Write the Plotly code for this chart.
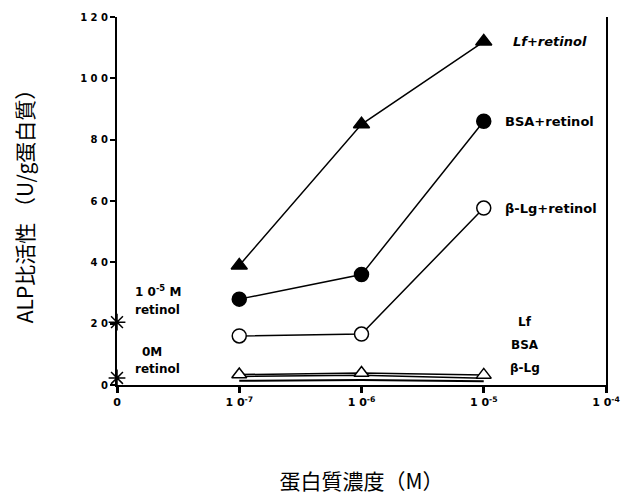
import plotly.graph_objects as go

# ---- data ----
x_pos = [1, 2, 3]                     # positions of 10^-7, 10^-6, 10^-5
tick_vals = [0, 1, 2, 3, 4]
tick_text = ["<b>0</b>", "<b>1 0<sup>-7</sup></b>", "<b>1 0<sup>-6</sup></b>",
             "<b>1 0<sup>-5</sup></b>", "<b>1 0<sup>-4</sup></b>"]
y_ticks = [0, 20, 40, 60, 80, 100, 120]
y_tick_text = ["<b>0</b>", "<b>2 0</b>", "<b>4 0</b>", "<b>6 0</b>", "<b>8 0</b>",
               "<b>1 0 0</b>", "<b>1 2 0</b>"]

lf_retinol = [39, 85, 112]
bsa_retinol = [28, 36, 86]
blg_retinol = [16, 16.6, 57.7]

lf_only = [3.4, 3.9, 3.3]
bsa_only = [2.8, 3.2, 2.2]
blg_only = [1.4, 1.6, 1.2]

retinol_x = [0, 0]
retinol_only = [20.5, 2.3]

FONT = "DejaVu Sans, Arial, sans-serif"
CJK = "Noto Sans CJK JP, Noto Sans CJK SC, sans-serif"

fig = go.Figure()

def add(y, symbol, size, fill="black", lw=1.5, mode="lines+markers"):
    fig.add_trace(go.Scatter(
        x=x_pos, y=y, mode=mode,
        line=dict(color="black", width=lw),
        marker=dict(symbol=symbol, size=size, color=fill,
                    line=dict(color="black", width=1.5)),
        cliponaxis=False, showlegend=False))

add(blg_only, "circle", 6, "black", 2, mode="lines")
add(bsa_only, "circle", 6, "black", 1.5, mode="lines")
add(lf_only, "triangle-up", 13, "white", 1.5)
add(lf_retinol, "triangle-up", 14, "black")
add(bsa_retinol, "circle", 14, "black")
add(blg_retinol, "circle", 14, "white")

fig.add_trace(go.Scatter(
    x=retinol_x, y=retinol_only, mode="markers",
    marker=dict(symbol="asterisk-open", size=14, color="black",
                line=dict(color="black", width=1.5)),
    cliponaxis=False, showlegend=False))

ann_font = dict(family=FONT, size=13, color="black")
small_font = dict(family=FONT, size=12, color="black")
labels = [
    (3.22, 112, "<b><i>Lf+retinol</i></b>", "left", ann_font),
    (3.16, 86, "<b>BSA+retinol</b>", "left", ann_font),
    (3.16, 57.7, "<b>β-Lg+retinol</b>", "left", ann_font),
    (3.34, 20.5, "<b>Lf</b>", "center", small_font),
    (3.34, 13, "<b>BSA</b>", "center", small_font),
    (3.34, 5.5, "<b>β-Lg</b>", "center", small_font),
    (0.13, 30.5, "<b>1 0<sup>-5</sup> M</b>", "left", small_font),
    (0.13, 24.5, "<b>retinol</b>", "left", small_font),
    (0.19, 10.8, "<b>0M</b>", "left", small_font),
    (0.13, 5.3, "<b>retinol</b>", "left", small_font),
]
for xv, yv, t, al, f in labels:
    fig.add_annotation(x=xv, y=yv, text=t, showarrow=False, xanchor=al,
                       yanchor="middle", font=f)

fig.update_layout(
    width=622, height=500,
    margin=dict(l=117, r=16, t=17, b=115),
    plot_bgcolor="white", paper_bgcolor="white",
    xaxis=dict(range=[0, 4], tickmode="array", tickvals=tick_vals, ticktext=tick_text,
               automargin=False,
               showgrid=False, zeroline=False, showline=True, linecolor="black", linewidth=2,
               ticks="outside", ticklen=6, tickwidth=2.5, tickcolor="black",
               tickfont=dict(family=FONT, size=11, color="black"),
               title=dict(text="蛋白質濃度（M）", font=dict(family=CJK, size=21, color="black"),
                          standoff=66)),
    yaxis=dict(range=[0, 120], tickmode="array", tickvals=y_ticks, ticktext=y_tick_text,
               automargin=False,
               showgrid=False, zeroline=False, showline=True, linecolor="black", linewidth=2,
               mirror=True,
               ticks="outside", ticklen=5, tickwidth=1.5, tickcolor="black",
               tickfont=dict(family=FONT, size=10, color="black"),
               title=dict(text="ALP比活性 （U/g蛋白質）", font=dict(family=CJK, size=21, color="black"),
                          standoff=41)),
)

# remove the browser's default 8px body margin so the figure fills the window exactly
fig.write_html("out.html", config={"displayModeBar": False},
               post_script="document.body.style.margin='0';document.body.style.overflow='hidden';")
